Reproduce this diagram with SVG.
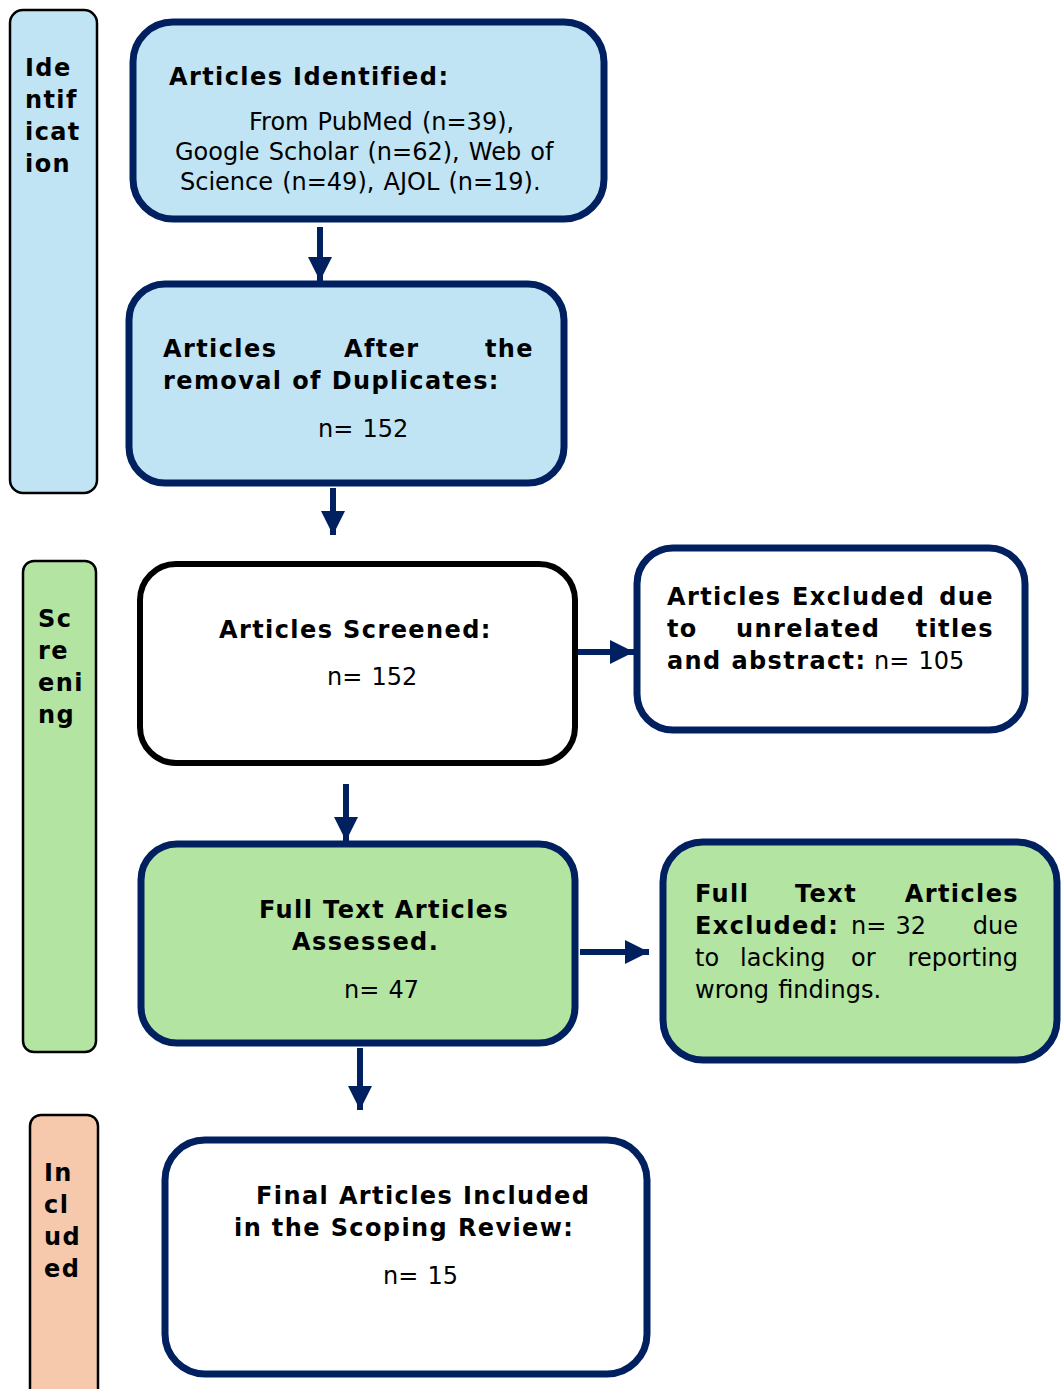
<svg xmlns="http://www.w3.org/2000/svg" width="1064" height="1389" viewBox="0 0 1064 1389">
<defs>
<style>
text{font-family:"DejaVu Sans","Verdana",sans-serif;font-size:24px;fill:#000;word-spacing:1.5px}
.b{font-weight:bold;letter-spacing:1.4px;word-spacing:0}
.e{text-anchor:end}
.side{stroke:#000;stroke-width:2.5}
.box{stroke:#002060;stroke-width:7}
.blk{stroke:#000;stroke-width:6}
.blue{fill:#C1E4F4}
.green{fill:#B3E4A2}
.peach{fill:#F6C8AC}
.white{fill:#fff}
.conn line{stroke:#002060;stroke-width:6}
</style>
<marker id="arr" viewBox="0 0 10 10" refX="10" refY="5" markerWidth="24" markerHeight="24" markerUnits="userSpaceOnUse" orient="auto">
<path d="M0,0 L10,5 L0,10 z" fill="#002060"/>
</marker>
</defs>
<rect width="1064" height="1389" fill="#fff"/>

<g id="side-identification">
<rect class="side blue" x="10" y="10" width="87" height="483" rx="13"/>
<text class="b" x="25" y="76">Ide</text>
<text class="b" x="25" y="108">ntif</text>
<text class="b" x="25" y="140">icat</text>
<text class="b" x="25" y="172">ion</text>
</g>
<g id="side-screening">
<rect class="side green" x="23" y="561" width="73" height="491" rx="11"/>
<text class="b" x="38" y="627">Sc</text>
<text class="b" x="38" y="659">re</text>
<text class="b" x="38" y="691">eni</text>
<text class="b" x="38" y="723">ng</text>
</g>
<g id="side-included">
<rect class="side peach" x="30" y="1115" width="68" height="290" rx="11"/>
<text class="b" x="44" y="1181">In</text>
<text class="b" x="44" y="1213">cl</text>
<text class="b" x="44" y="1245">ud</text>
<text class="b" x="44" y="1277">ed</text>
</g>

<g class="conn" id="connectors">
<line x1="320" y1="227" x2="320" y2="281" marker-end="url(#arr)"/>
<line x1="333" y1="488" x2="333" y2="535" marker-end="url(#arr)"/>
<line x1="578" y1="652" x2="634" y2="652" marker-end="url(#arr)"/>
<line x1="346" y1="784" x2="346" y2="841" marker-end="url(#arr)"/>
<line x1="580" y1="952" x2="649" y2="952" marker-end="url(#arr)"/>
<line x1="360" y1="1048" x2="360" y2="1110" marker-end="url(#arr)"/>
</g>

<g id="node-identified">
<rect class="box blue" x="133" y="22" width="471" height="197" rx="40"/>
<text class="b" x="169" y="85">Articles Identified:</text>
<text x="249" y="130">From PubMed (n=39),</text>
<text x="175" y="160">Google Scholar (n=62), Web of</text>
<text x="180" y="190">Science (n=49), AJOL (n=19).</text>
</g>

<g id="node-deduplicated">
<rect class="box blue" x="129" y="284" width="435" height="199" rx="36"/>
<text class="b" x="163" y="357">Articles</text>
<text class="b" x="344" y="357">After</text>
<text class="b e" x="534" y="357">the</text>
<text class="b" x="163" y="389">removal of Duplicates:</text>
<text x="318" y="437">n= 152</text>
</g>

<g id="node-screened">
<rect class="blk white" x="140" y="564" width="435" height="199" rx="36"/>
<text class="b" x="219" y="638">Articles Screened:</text>
<text x="327" y="685">n= 152</text>
</g>

<g id="node-excluded-title">
<rect class="box white" x="637" y="548" width="388" height="182" rx="36"/>
<text class="b" x="667" y="605">Articles</text>
<text class="b" x="792" y="605">Excluded</text>
<text class="b e" x="994" y="605">due</text>
<text class="b" x="667" y="637">to</text>
<text class="b" x="736" y="637">unrelated</text>
<text class="b e" x="994" y="637">titles</text>
<text class="b" x="667" y="669">and abstract:</text>
<text x="874" y="669">n= 105</text>
</g>

<g id="node-fulltext">
<rect class="box green" x="141" y="844" width="434" height="199" rx="36"/>
<text class="b" x="259" y="918">Full Text Articles</text>
<text class="b" x="292" y="950">Assessed.</text>
<text x="344" y="998">n= 47</text>
</g>

<g id="node-fulltext-excluded">
<rect class="box green" x="663" y="842" width="394" height="218" rx="40"/>
<text class="b" x="695" y="902">Full</text>
<text class="b" x="795" y="902">Text</text>
<text class="b e" x="1019" y="902">Articles</text>
<text class="b" x="695" y="934">Excluded:</text>
<text x="851" y="934">n= 32</text>
<text class="e" x="1018" y="934">due</text>
<text x="695" y="966">to</text>
<text x="740" y="966">lacking</text>
<text x="851" y="966">or</text>
<text class="e" x="1018" y="966">reporting</text>
<text x="695" y="998">wrong findings.</text>
</g>

<g id="node-final">
<rect class="box white" x="165" y="1140" width="482" height="234" rx="40"/>
<text class="b" x="256" y="1204">Final Articles Included</text>
<text class="b" x="234" y="1236">in the Scoping Review:</text>
<text x="383" y="1284">n= 15</text>
</g>
</svg>
